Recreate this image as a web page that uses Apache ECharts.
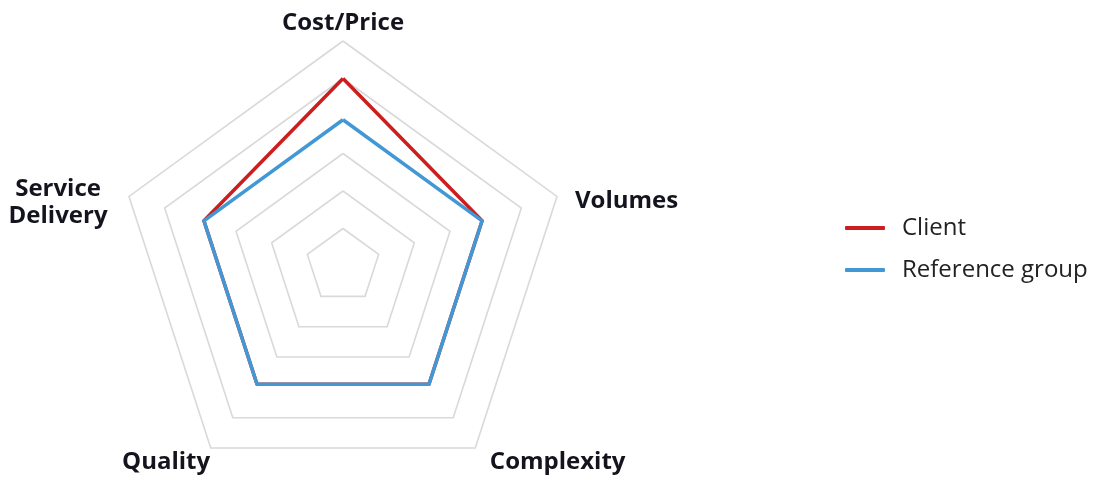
<!DOCTYPE html>
<html>
<head>
<meta charset="utf-8">
<script src="https://cdn.jsdelivr.net/npm/echarts@6/dist/echarts.min.js"></script>
<style>
html,body{margin:0;padding:0;background:#fff;}
#chart{width:1096px;height:480px;}
</style>
</head>
<body>
<div id="chart"></div>
<script>
const categories = ['Cost/Price', 'Service\nDelivery', 'Quality', 'Complexity', 'Volumes'];
const seriesNames = ['Client', 'Reference group'];
const clientValues = [5, 3.9, 3.9, 3.9, 3.9];
const referenceValues = [3.9, 3.9, 3.9, 3.9, 3.9];
const axisMax = 6;
const levels = 6;

// label nudges (layout only): padding [top, right, bottom, left] per category line
const labelPads = [
  [[0, 0, 7, 0]],
  [[13, 20, 0, 0], [12, 20, 0, 0]],
  [[26, 0, 0, 0]],
  [[26, 0, 0, 14]],
  [[9, 0, 0, 17]]
];

const FONT = '"Open Sans", "Noto Sans", sans-serif';
const labelStyle = { fontFamily: FONT, fontWeight: 'bold', fontSize: 24, color: '#14141e', lineHeight: 27 };

const rich = {};
labelPads.forEach((lines, i) => {
  lines.forEach((p, j) => {
    const st = Object.assign({}, labelStyle, { padding: p });
    if (lines.length > 1) { st.width = 100; st.align = 'center'; }
    rich['l' + i + '_' + j] = st;
  });
});

// grid levels: index 0 is the centre; level 4 is not drawn in the reference
const gridColors = [];
for (let i = 0; i <= levels; i++) gridColors.push(i === 4 ? 'rgba(0,0,0,0)' : '#d9d9d9');

const chart = echarts.init(document.getElementById('chart'), null, { renderer: 'canvas' });
chart.setOption({
  animation: false,
  backgroundColor: '#ffffff',
  legend: {
    orient: 'vertical',
    left: 840,
    top: 211,
    itemWidth: 40,
    itemHeight: 4,
    itemGap: 18,
    icon: 'roundRect',
    data: seriesNames,
    textStyle: { fontFamily: FONT, fontSize: 24, lineHeight: 24, color: '#222222', padding: [0, 0, 0, 12] }
  },
  radar: {
    center: [343, 266],
    radius: 225,
    startAngle: 90,
    splitNumber: levels,
    shape: 'polygon',
    indicator: categories.map(n => ({ name: n, max: axisMax, min: 0 })),
    axisName: Object.assign({}, labelStyle, {
      formatter: function (name) {
        const i = categories.indexOf(name);
        return name.split('\n').map((s, j) => '{l' + i + '_' + j + '|' + s + '}').join('\n');
      },
      rich: rich
    }),
    nameGap: 1,
    axisLine: { show: false },
    axisTick: { show: false },
    axisLabel: { show: false },
    splitArea: { show: false },
    splitLine: { lineStyle: { color: gridColors, width: 1.6 } }
  },
  series: [{
    type: 'radar',
    symbol: 'none',
    data: [
      { name: seriesNames[0], value: clientValues, lineStyle: { color: '#cc1d1f', width: 3.5 }, itemStyle: { color: '#cc1d1f' } },
      { name: seriesNames[1], value: referenceValues, lineStyle: { color: '#4298d4', width: 3.5 }, itemStyle: { color: '#4298d4' } }
    ]
  }]
});
</script>
</body>
</html>
